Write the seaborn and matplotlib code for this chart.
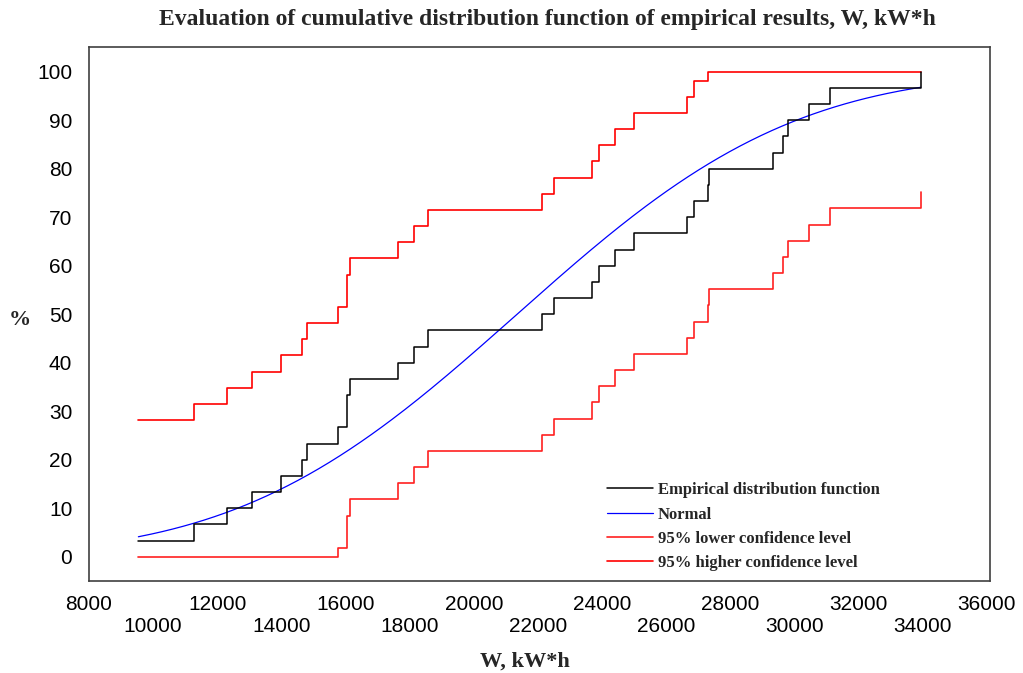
import math
import numpy as np
import pandas as pd
import matplotlib
matplotlib.use("Agg")
import matplotlib.pyplot as plt
import seaborn as sns

w_values = [9540, 11280, 12300, 13090, 13990, 14630, 14800, 15760, 16040, 16040,
            16150, 17630, 18130, 18570, 22130, 22510, 23690, 23910, 24400, 25000,
            26650, 26880, 27310, 27350, 29330, 29630, 29790, 30450, 31100, 33940]
ecdf_pct = [3.3, 6.7, 10.0, 13.3, 16.7, 20.0, 23.3, 26.7, 30.0, 33.3,
            36.7, 40.0, 43.3, 46.7, 50.0, 53.3, 56.7, 60.0, 63.3, 66.7,
            70.0, 73.3, 76.7, 80.0, 83.3, 86.7, 90.0, 93.3, 96.7, 100.0]
lower_pct = [0, 0, 0, 0, 0, 0, 0, 1.9, 5.2, 8.5,
             11.9, 15.2, 18.5, 21.9, 25.2, 28.5, 31.9, 35.2, 38.5, 41.9,
             45.2, 48.5, 51.9, 55.2, 58.5, 61.9, 65.2, 68.5, 71.9, 75.2]
upper_pct = [28.1, 31.5, 34.8, 38.1, 41.5, 44.8, 48.1, 51.5, 54.8, 58.1,
             61.5, 64.8, 68.1, 71.5, 74.8, 78.1, 81.5, 84.8, 88.1, 91.5,
             94.8, 98.1, 100, 100, 100, 100, 100, 100, 100, 100]

# fitted normal distribution
norm_mean = 21350
norm_sd = 6800

x_ticks = list(range(8000, 36001, 2000))
y_ticks = list(range(0, 101, 10))

sns.set_theme(style="white")
plt.rcParams['font.family'] = ['Liberation Sans', 'DejaVu Sans']
serif = ['Liberation Serif', 'DejaVu Serif']

steps = pd.DataFrame({"W": w_values, "ecdf": ecdf_pct,
                      "lower": lower_pct, "upper": upper_pct})

xs = np.linspace(min(w_values), max(w_values), 300)
normal = pd.DataFrame({"W": xs,
                       "cdf": [50 * (1 + math.erf((v - norm_mean) / (norm_sd * math.sqrt(2)))) for v in xs]})

fig = plt.figure(figsize=(10.23, 6.73), dpi=100)
ax = fig.add_axes([89 / 1023, 1 - 581 / 673, 901 / 1023, 534 / 673])

sns.lineplot(data=steps, x="W", y="ecdf", drawstyle="steps-post", color="black",
             lw=1.1, estimator=None, sort=False, ax=ax, zorder=4,
             label="Empirical distribution function")
sns.lineplot(data=normal, x="W", y="cdf", color="blue", lw=0.9,
             estimator=None, sort=False, ax=ax, zorder=3, label="Normal")
sns.lineplot(data=steps, x="W", y="lower", drawstyle="steps-post", color="#ff2020",
             lw=1.2, estimator=None, sort=False, ax=ax, zorder=2,
             label="95% lower confidence level")
sns.lineplot(data=steps, x="W", y="upper", drawstyle="steps-post", color="red",
             lw=1.2, estimator=None, sort=False, ax=ax, zorder=2,
             label="95% higher confidence level")

ax.set_xlim(8000, 36100)
ax.set_ylim(-5, 105.1)
ax.set_xticks(x_ticks)
ax.set_xticklabels([str(v) if i % 2 == 0 else "\n" + str(v) for i, v in enumerate(x_ticks)])
ax.set_yticks(y_ticks)
ax.tick_params(direction="in", length=4, width=1, labelsize=15, colors="#333333",
               labelcolor="black")
ax.tick_params(axis="x", pad=10)
ax.tick_params(axis="y", pad=12)
ax.set_xlabel("")
ax.set_ylabel("")
for sp in ax.spines.values():
    sp.set_color("#404040")
    sp.set_linewidth(1.2)

leg = ax.legend(frameon=False, loc="upper left", bbox_to_anchor=(0.558, 0.213),
                handlelength=2.75, handletextpad=0.3, labelspacing=0.5,
                prop={"family": serif, "weight": "bold", "size": 12})

fig.text(547 / 1023, 1 - 19 / 673,
         "Evaluation of cumulative distribution function of empirical results, W, kW*h",
         ha="center", va="center", family=serif, weight="bold", size=17)
fig.text(525 / 1023, 1 - 662 / 673, "W, kW*h", ha="center", va="center",
         family=serif, weight="bold", size=16)
fig.text(20 / 1023, 1 - 320 / 673, "%", ha="center", va="center",
         family=serif, weight="bold", size=16)

fig.savefig("out.png", dpi=100)
